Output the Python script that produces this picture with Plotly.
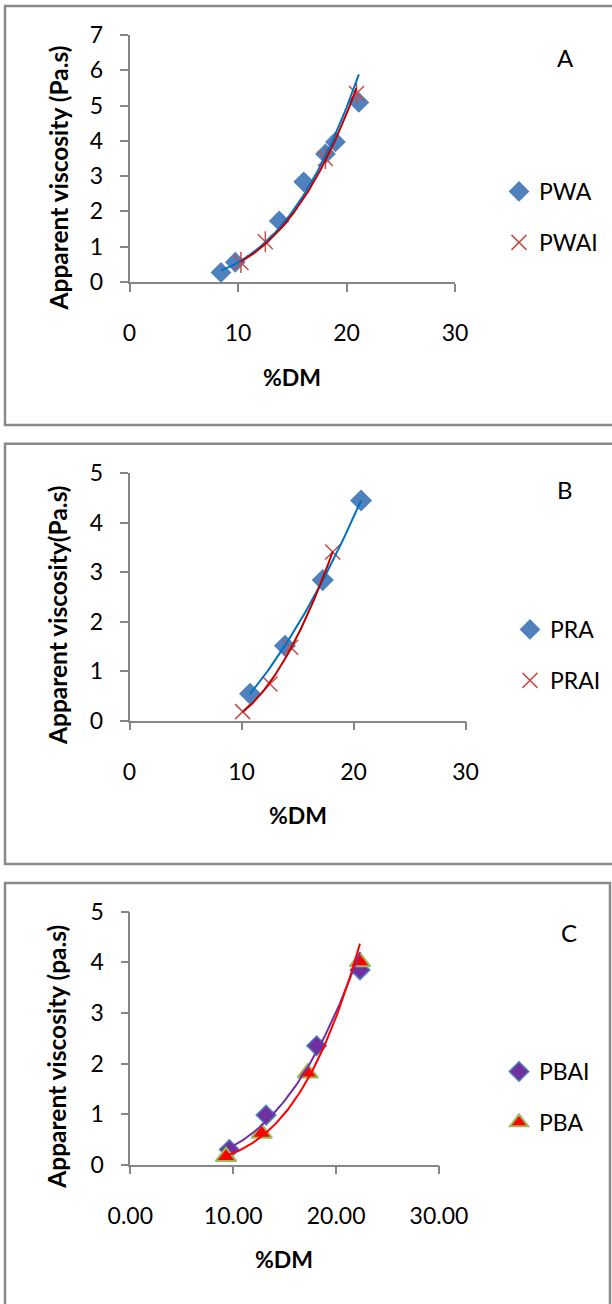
import numpy as np
import plotly.graph_objects as go

# ---------------- data ----------------
pwa_x = [8.43, 9.75, 13.8, 16.06, 18.06, 18.98, 21.14]
pwa_y = [0.27, 0.56, 1.73, 2.84, 3.63, 3.97, 5.09]
pwai_x = [10.27, 12.52, 18.06, 20.92]
pwai_y = [0.55, 1.14, 3.50, 5.34]

pra_x = [10.76, 13.88, 17.25, 20.67]
pra_y = [0.54, 1.51, 2.84, 4.45]
prai_x = [10.1, 12.54, 14.39, 18.14]
prai_y = [0.18, 0.74, 1.48, 3.41]

pbai_x = [9.62, 13.19, 18.11, 22.32]
pbai_y = [0.30, 0.98, 2.35, 3.85]
pba_x = [9.3, 12.77, 17.24, 22.32]
pba_y = [0.16, 0.62, 1.81, 4.01]

x_ticks = [0, 10, 20, 30]
yA_ticks = [0, 1, 2, 3, 4, 5, 6, 7]
yB_ticks = [0, 1, 2, 3, 4, 5]
yC_ticks = [0, 1, 2, 3, 4, 5]


def power_trend(x, y, n=80):
    b, a = np.polyfit(np.log(x), np.log(y), 1)
    xs = np.linspace(min(x), max(x), n)
    return xs, np.exp(a) * xs ** b


def poly2_trend(x, y, n=80):
    c = np.polyfit(x, y, 2)
    xs = np.linspace(min(x), max(x), n)
    return xs, np.polyval(c, xs)


W, H = 612, 1304
FONT = "Lato"
AX = "#868686"
RED_M = "#C0504D"


def px(v):
    return v / W


def py(v):
    return 1 - v / H


fig = go.Figure()

# ---------- Panel A ----------
fig.add_trace(go.Scatter(x=pwa_x, y=pwa_y, mode="markers", name="PWA",
                         marker=dict(symbol="diamond", size=16, color="#4F81BD"),
                         xaxis="x", yaxis="y", legend="legend", legendgroup="a1"))
fig.add_trace(go.Scatter(x=pwai_x, y=pwai_y, mode="markers", name="PWAI",
                         marker=dict(symbol="x-thin-open", size=15, color=RED_M,
                                     line=dict(color=RED_M, width=1.5)),
                         xaxis="x", yaxis="y", legend="legend", legendgroup="a2"))
fig.add_trace(go.Scatter(x=pwai_x, y=pwai_y, mode="markers", showlegend=False,
                         marker=dict(symbol="line-ns-open", size=15, color=RED_M,
                                     line=dict(color=RED_M, width=1.5)),
                         xaxis="x", yaxis="y"))
tx, ty = power_trend(pwa_x, pwa_y)
fig.add_trace(go.Scatter(x=tx, y=ty, mode="lines", showlegend=False,
                         line=dict(color="#0070C0", width=2), xaxis="x", yaxis="y"))
tx, ty = power_trend(pwai_x, pwai_y)
fig.add_trace(go.Scatter(x=tx, y=ty, mode="lines", showlegend=False,
                         line=dict(color="#C00000", width=2), xaxis="x", yaxis="y"))

# ---------- Panel B ----------
fig.add_trace(go.Scatter(x=pra_x, y=pra_y, mode="markers", name="PRA",
                         marker=dict(symbol="diamond", size=17, color="#4F81BD"),
                         xaxis="x2", yaxis="y2", legend="legend2", legendgroup="b1"))
fig.add_trace(go.Scatter(x=prai_x, y=prai_y, mode="markers", name="PRAI",
                         marker=dict(symbol="x-thin-open", size=15, color=RED_M,
                                     line=dict(color=RED_M, width=1.5)),
                         xaxis="x2", yaxis="y2", legend="legend2", legendgroup="b2"))
tx, ty = poly2_trend(pra_x, pra_y)
fig.add_trace(go.Scatter(x=tx, y=ty, mode="lines", showlegend=False,
                         line=dict(color="#0070C0", width=2), xaxis="x2", yaxis="y2"))
tx, ty = poly2_trend(prai_x, prai_y)
fig.add_trace(go.Scatter(x=tx, y=ty, mode="lines", showlegend=False,
                         line=dict(color="#C00000", width=2), xaxis="x2", yaxis="y2"))

# ---------- Panel C ----------
fig.add_trace(go.Scatter(x=pbai_x, y=pbai_y, mode="markers", name="PBAI",
                         marker=dict(symbol="diamond", size=15, color="#7030A0",
                                     line=dict(color="#4F81BD", width=1.5)),
                         xaxis="x3", yaxis="y3", legend="legend3", legendgroup="c1"))
fig.add_trace(go.Scatter(x=pba_x, y=pba_y, mode="markers", name="PBA",
                         marker=dict(symbol="triangle-up", size=18, color="#FF0000",
                                     line=dict(color="#9BBB59", width=2)),
                         xaxis="x3", yaxis="y3", legend="legend3", legendgroup="c2"))
tx, ty = power_trend(pbai_x, pbai_y)
fig.add_trace(go.Scatter(x=tx, y=ty, mode="lines", showlegend=False,
                         line=dict(color="#7030A0", width=2), xaxis="x3", yaxis="y3"))
tx, ty = power_trend(pba_x, pba_y)
fig.add_trace(go.Scatter(x=tx, y=ty, mode="lines", showlegend=False,
                         line=dict(color="#FF0000", width=2), xaxis="x3", yaxis="y3"))

TICKFONT = dict(family=FONT, size=23, color="black")


def xax(dom, anchor, fmt=None):
    d = dict(domain=dom, anchor=anchor, range=[0, 30], tickvals=x_ticks,
             showline=True, linecolor=AX, linewidth=1.5, ticks="outside",
             ticklen=8, tickwidth=1.5, tickcolor=AX, showgrid=False, zeroline=False,
             tickfont=TICKFONT, ticklabelstandoff=22, fixedrange=True, automargin=False)
    if fmt:
        d["tickformat"] = fmt
    return d


def yax(dom, anchor, rng, ticks):
    return dict(domain=dom, anchor=anchor, range=rng, tickvals=ticks,
                showline=True, linecolor=AX, linewidth=1.5, ticks="outside",
                ticklen=8, tickwidth=1.5, tickcolor=AX, showgrid=False, zeroline=False,
                tickfont=TICKFONT, ticklabelstandoff=12, fixedrange=True, automargin=False)


# axis pixel geometry
A_x = (129.5, 455.0); A_y = (282.0, 35.0)
B_x = (129.5, 465.6); B_y = (720.5, 473.3)
C_x = (130.3, 439.0); C_y = (1164.7, 911.7)

leg_common = dict(font=dict(family=FONT, size=23, color="black"), bgcolor="rgba(0,0,0,0)",
                  traceorder="grouped", tracegroupgap=18, xanchor="left", yanchor="top",
                  xref="container", yref="container")

fig.update_layout(
    width=W, height=H, margin=dict(l=0, r=0, t=0, b=0, autoexpand=False),
    paper_bgcolor="white", plot_bgcolor="white",
    xaxis=xax([px(A_x[0]), px(A_x[1])], "y"),
    yaxis=yax([py(A_y[0]), py(A_y[1])], "x", [0, 7], yA_ticks),
    xaxis2=xax([px(B_x[0]), px(B_x[1])], "y2"),
    yaxis2=yax([py(B_y[0]), py(B_y[1])], "x2", [0, 5], yB_ticks),
    xaxis3=xax([px(C_x[0]), px(C_x[1])], "y3", fmt=".2f"),
    yaxis3=yax([py(C_y[0]), py(C_y[1])], "x3", [0, 5], yC_ticks),
    legend=dict(x=px(499), y=py(170), **leg_common),
    legend2=dict(x=px(510), y=py(608), **leg_common),
    legend3=dict(x=px(499), y=py(1050), **leg_common),
)

# frames
FR = "#8A8A8A"
fig.add_shape(type="rect", xref="paper", yref="paper", x0=px(5), x1=px(640), y0=py(425), y1=py(6),
              line=dict(color=FR, width=2.5))
fig.add_shape(type="rect", xref="paper", yref="paper", x0=px(5), x1=px(640), y0=py(864), y1=py(443.7),
              line=dict(color=FR, width=2.5))
fig.add_shape(type="rect", xref="paper", yref="paper", x0=px(5), x1=px(610), y0=py(1340), y1=py(883),
              line=dict(color=FR, width=2.5))


def ann(x, y, text, size=23, angle=0):
    fig.add_annotation(xref="paper", yref="paper", x=px(x), y=py(y), text=text,
                       showarrow=False, textangle=angle, xanchor="center", yanchor="middle",
                       font=dict(family=FONT, size=size, color="black"))


# x titles
ann(292, 377, "<b>%DM</b>")
ann(297.5, 815, "<b>%DM</b>")
ann(284, 1258.7, "<b>%DM</b>")
# y titles
ann(57.5, 178, "<b>Apparent viscosity (Pa.s)</b>", size=24.5, angle=-90)
ann(57, 615, "<b>Apparent viscosity(Pa.s)</b>", size=24.5, angle=-90)
ann(57, 1056.7, "<b>Apparent viscosity (pa.s)</b>", size=24.5, angle=-90)
# panel letters
ann(565, 57, "A", size=24)
ann(565, 490, "B", size=24)
ann(569, 932, "C", size=24)

fig.write_html("out.html")
